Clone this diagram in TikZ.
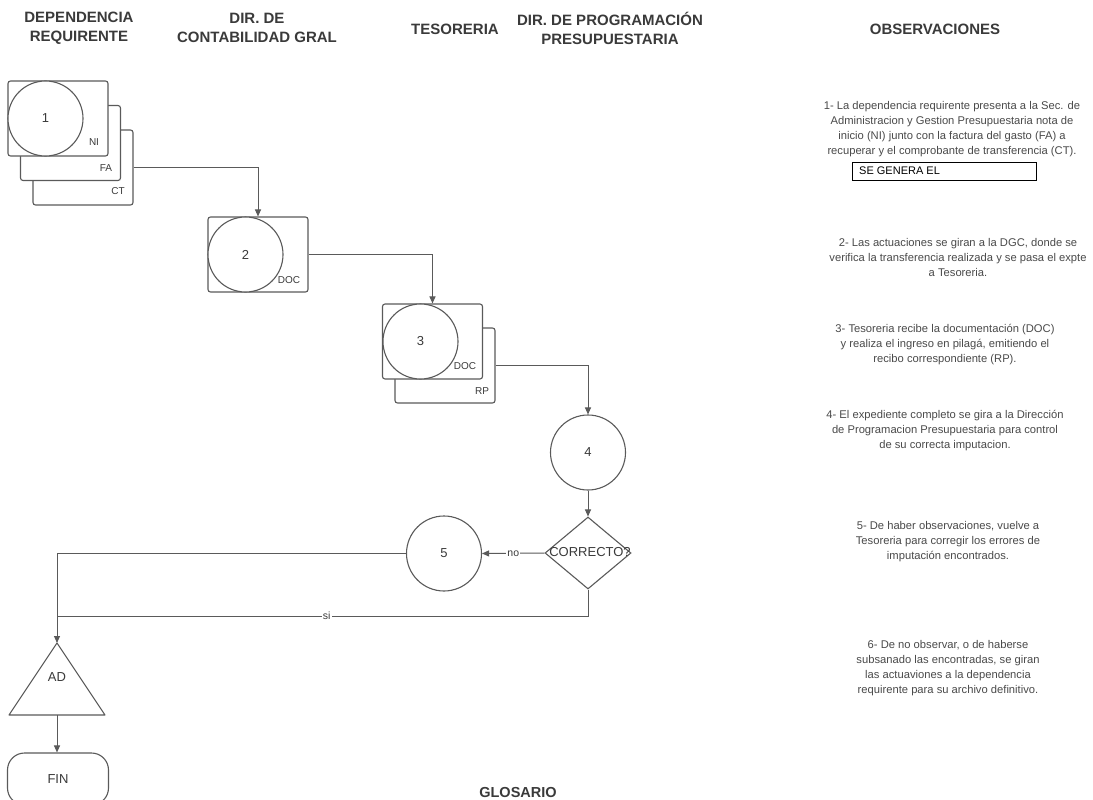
\documentclass[tikz,border=0pt]{standalone}
\usepackage{fontspec}
\setmainfont{Liberation Sans}
\usetikzlibrary{shapes.geometric,arrows.meta}
\definecolor{ink}{HTML}{5A5A5A}
\definecolor{txt}{HTML}{3A3A3A}
\definecolor{obs}{HTML}{4A4A4A}
\tikzset{
  docbox/.style={draw=ink, line width=1.1pt, rounded corners=2.5pt, fill=white,
    minimum width=100pt, minimum height=75pt, inner sep=0pt},
  stepcirc/.style={circle, draw=ink, line width=1.1pt, fill=white,
    minimum size=75pt, inner sep=0pt, font=\fontsize{13}{15}\selectfont, text=txt},
  tag/.style={font=\fontsize{10}{12}\selectfont, text=txt, inner sep=0pt},
  shapetext/.style={font=\fontsize{13}{15}\selectfont, text=txt, inner sep=0pt},
  flow/.style={draw=ink, line width=1pt, -{Triangle[length=7pt,width=6pt]}},
  plain/.style={draw=ink, line width=1pt},
  header/.style={font=\bfseries\fontsize{15}{19}\selectfont, text=txt, align=center},
  note/.style={font=\fontsize{11.2}{15}\selectfont, text=obs, align=center},
  edgelbl/.style={font=\fontsize{10.5}{12}\selectfont, text=txt, fill=white, inner sep=1pt}
}
\begin{document}
\begin{tikzpicture}[x=1pt,y=-1pt]
\useasboundingbox (0,0) rectangle (1093,800);
\fill[white] (0,0) rectangle (1093,800);

% column headers
\node[header] (h1) at (79,28) {DEPENDENCIA\\REQUIRENTE};
\node[header] (h2) at (257,28) {DIR. DE\\CONTABILIDAD GRAL};
\node[header] (h3) at (455,29) {TESORERIA};
\node[header] (h4) at (610,28) {DIR. DE PROGRAMACIÓN\\PRESUPUESTARIA};
\node[header] (h5) at (935,29) {OBSERVACIONES};

% step 1: note, invoice and transfer receipt
\node[docbox] (ct) at (83,167.5) {};
\node[tag] (ctl) at (118,191) {CT};
\node[docbox] (fa) at (70.5,143) {};
\node[tag] (fal) at (106,168) {FA};
\node[docbox] (ni) at (58,118.5) {};
\node[tag] (nil) at (94,142) {NI};
\node[stepcirc] (c1) at (45.5,118.5) {1};

% step 2
\node[docbox] (d2) at (258,254.5) {};
\node[stepcirc] (c2) at (245.5,254.5) {2};
\node[tag, fill=white, inner sep=0.5pt] (d2l) at (289,280) {DOC};

% step 3
\node[docbox] (rp) at (445,365.5) {};
\node[tag] (rpl) at (482,391) {RP};
\node[docbox] (d3) at (432.5,341.5) {};
\node[stepcirc] (c3) at (420.5,341.5) {3};
\node[tag, fill=white, inner sep=0.5pt] (d3l) at (465,366) {DOC};

% step 4 and check
\node[stepcirc] (c4) at (588,452.5) {4};
\node[diamond, draw=ink, line width=1.1pt, minimum width=86pt, minimum height=72pt,
  inner sep=0pt] (dia) at (588,553) {};
\node[shapetext] (dial) at (590,552) {CORRECTO?};

% step 5
\node[stepcirc] (c5) at (444,553.5) {5};

% archive and end
\coordinate (adtop) at (57,643);
\coordinate (adbase) at (57,715);
\coordinate (join) at (57,616);
\draw[ink, line width=1.1pt, line join=round, fill=white] (adtop) -- (105,715) -- (9,715) -- cycle;
\node[shapetext] (adl) at (57,677) {AD};
\node[draw=ink, line width=1.1pt, rounded corners=17pt, minimum width=101pt,
  minimum height=52pt, shapetext] (fin) at (58,779) {FIN};

% connectors
\draw[flow] (ct.east) -| (d2.north);
\draw[flow] (d2.east) -| (d3.north);
\draw[flow] (rp.east) -| (c4.north);
\draw[flow] (c4.south) -- (dia.north);
\draw[flow] (dia.west) -- node[edgelbl] (nolbl) {no} (c5.east);
\draw[flow] (c5.west) -| (adtop);
\draw[plain] (dia.south) |- node[edgelbl, pos=0.746] (silbl) {si} (join);
\draw[flow] (adbase) -- (adbase |- fin.north);

% observations
\node[note] (o1) at (952,129) {1- La dependencia requirente presenta a la Sec. de\\
Administracion y Gestion Presupuestaria nota de\\
inicio (NI) junto con la factura del gasto (FA) a\\
recuperar y el comprobante de transferencia (CT).};
\node[draw=black, line width=0.8pt, minimum width=184pt, minimum height=18pt,
  inner sep=0pt] (gen) at (944,171) {};
\node[font=\fontsize{11}{12}\selectfont, anchor=west, inner sep=0pt] (genl) at (859,171) {SE GENERA EL};
\node[note] (o2) at (958,257) {2- Las actuaciones se giran a la DGC, donde se\\
verifica la transferencia realizada y se pasa el expte\\
a Tesoreria.};
\node[note] (o3) at (945,345) {3- Tesoreria recibe la documentación (DOC)\\
y realiza el ingreso en pilagá, emitiendo el\\
recibo correspondiente (RP).};
\node[note] (o4) at (945,431) {4- El expediente completo se gira a la Dirección\\
de Programacion Presupuestaria para control\\
de su correcta imputacion.};
\node[note] (o5) at (948,542) {5- De haber observaciones, vuelve a\\
Tesoreria para corregir los errores de\\
imputación encontrados.};
\node[note] (o6) at (948,668) {6- De no observar, o de haberse\\
subsanado las encontradas, se giran\\
las actuaviones a la dependencia\\
requirente para su archivo definitivo.};

% glossary title
\node[font=\bfseries\fontsize{14.5}{17}\selectfont, text=txt, anchor=base, inner sep=0pt] (glos) at (518,797) {GLOSARIO};
\end{tikzpicture}
\end{document}
